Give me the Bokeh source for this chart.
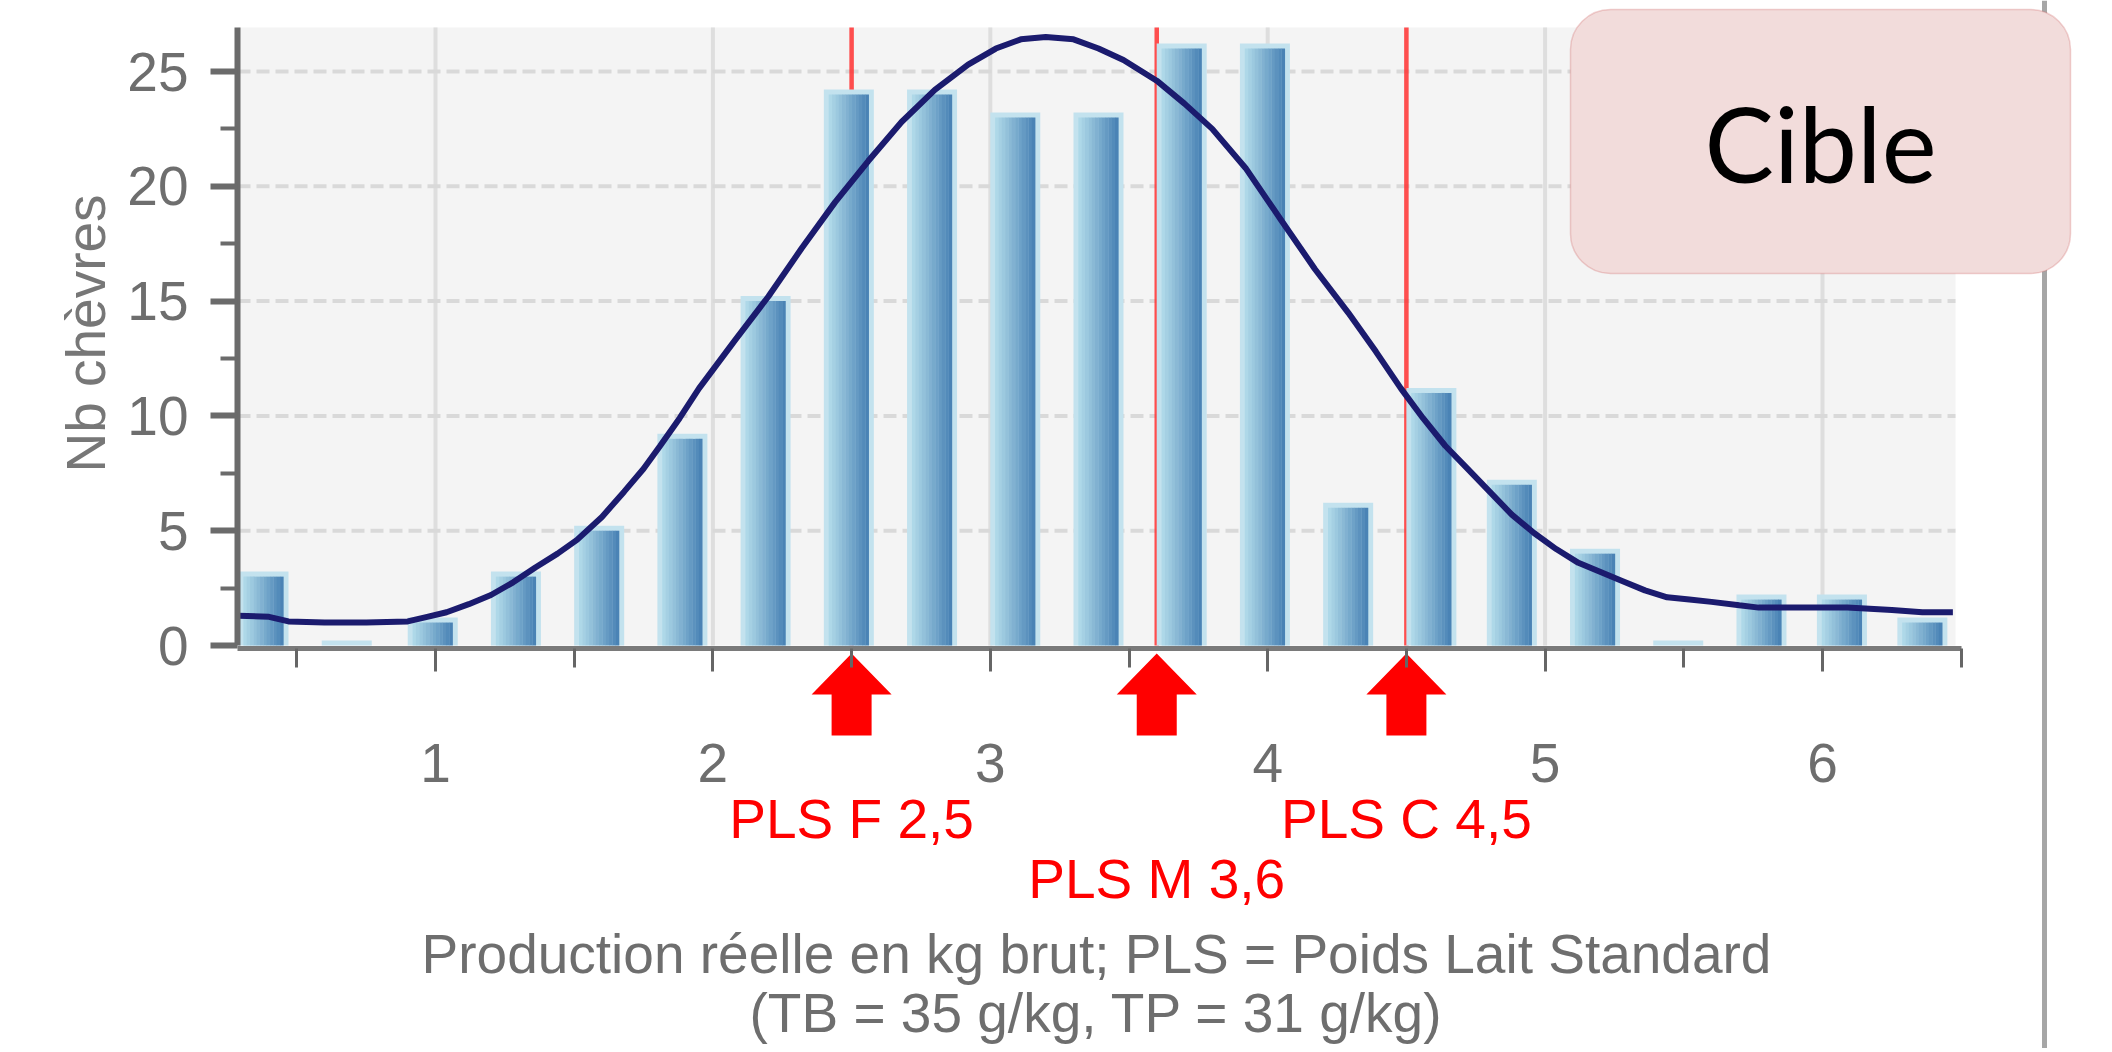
import math
from bokeh.plotting import figure
from bokeh.models import (Range1d, LinearAxis, FixedTicker, BoxAnnotation, Label,
                          Span, ColumnDataSource)
from bokeh.transform import dodge
from bokeh.core.properties import value
from bokeh.embed import file_html
from bokeh.resources import INLINE

# ---------------- data ----------------
bin_centers = [0.38, 0.68, 0.99, 1.29, 1.59, 1.89, 2.19, 2.49, 2.79, 3.09, 3.39,
               3.69, 3.99, 4.29, 4.59, 4.88, 5.18, 5.48, 5.78, 6.07, 6.36]
goat_counts = [3, 0, 1, 3, 5, 9, 15, 24, 24, 23, 23, 26, 26, 6, 11, 7, 4, 0, 2, 2, 1]

curve_x = [0.29, 0.40, 0.47, 0.60, 0.75, 0.90, 0.97, 1.04, 1.12, 1.20, 1.28, 1.36,
           1.44, 1.51, 1.60, 1.68, 1.75, 1.81, 1.88, 1.95, 2.08, 2.20, 2.32, 2.44,
           2.56, 2.68, 2.80, 2.92, 3.02, 3.11, 3.20, 3.30, 3.39, 3.48, 3.60, 3.70,
           3.80, 3.92, 4.05, 4.17, 4.29, 4.39, 4.48, 4.56, 4.64, 4.72, 4.80, 4.88,
           4.96, 5.04, 5.12, 5.20, 5.28, 5.36, 5.44, 5.52, 5.60, 5.70, 5.77, 5.90,
           6.09, 6.25, 6.36, 6.47]
curve_y = [1.30, 1.25, 1.05, 1.00, 1.00, 1.05, 1.25, 1.45, 1.80, 2.20, 2.75, 3.40,
           4.00, 4.60, 5.60, 6.70, 7.70, 8.70, 9.90, 11.20, 13.30, 15.20, 17.30, 19.30,
           21.10, 22.80, 24.20, 25.30, 26.00, 26.40, 26.50, 26.40, 26.00, 25.50, 24.60, 23.60,
           22.50, 20.80, 18.50, 16.40, 14.50, 12.80, 11.20, 9.90, 8.70, 7.70, 6.70, 5.70,
           4.90, 4.20, 3.60, 3.20, 2.80, 2.40, 2.10, 2.00, 1.90, 1.75, 1.65, 1.65,
           1.65, 1.55, 1.45, 1.45]

pls_names = ["PLS F", "PLS M", "PLS C"]
pls_values = [2.5, 3.6, 4.5]
pls_label_rows = [0, 1, 0]

y_ticks = [0, 5, 10, 15, 20, 25]
y_minor_ticks = [2.5, 7.5, 12.5, 17.5, 22.5]
y_grid_values = [5, 10, 15, 20, 25]
x_ticks = [1, 2, 3, 4, 5, 6]
x_minor_ticks = [0.5, 1.5, 2.5, 3.5, 4.5, 5.5, 6.5]
x_grid_values = [1, 2, 3, 4, 5, 6]

y_axis_title = "Nb chèvres"
x_axis_title_lines = ["Production réelle en kg brut; PLS = Poids Lait Standard",
                      "(TB = 35 g/kg, TP = 31 g/kg)"]
badge_text = "Cible"

# ---------------- layout / style ----------------
W, H = 2112, 1048
PX_PER_X = 277.4
PX_PER_Y = 22.96
X1_PX = 435      # px of x = 1
Y0_PX = 645      # px of y = 0


def xd(px):
    return 1 + (px - X1_PX) / PX_PER_X


def yd(py):
    return (Y0_PX - py) / PX_PER_Y


PLOT_LEFT = xd(237)
PLOT_RIGHT = xd(1955)
PLOT_TOP = yd(27)

FONT = "Liberation Sans"
GREY_TXT = "#6e6e6e"
FS = "55px"

p = figure(width=W, height=H, output_backend="svg", toolbar_location=None,
           x_range=Range1d(xd(0), xd(W)), y_range=Range1d(yd(H), yd(0)),
           x_axis_location=None, y_axis_location=None,
           min_border_left=0, min_border_right=0, min_border_top=0, min_border_bottom=0)
p.outline_line_color = None
p.background_fill_color = "white"
p.border_fill_color = "white"
p.grid.visible = False

# plot-area background
p.add_layout(BoxAnnotation(left=PLOT_LEFT, right=PLOT_RIGHT, bottom=0, top=PLOT_TOP,
                           fill_color="#f4f4f4", fill_alpha=1, line_color=None,
                           level="underlay"))

# grid lines
p.segment(x0=x_grid_values, y0=0, x1=x_grid_values, y1=PLOT_TOP,
          line_color="#dedede", line_width=4)
p.segment(x0=PLOT_LEFT, y0=y_grid_values, x1=PLOT_RIGHT, y1=y_grid_values,
          line_color="#d9d9d9", line_width=4, line_dash="13 6")

# PLS vertical lines (behind bars)
p.segment(x0=pls_values, y0=0, x1=pls_values, y1=PLOT_TOP,
          line_color="#ff3030", line_width=4.5, line_alpha=0.85)

# bars
src = ColumnDataSource(dict(x=bin_centers, n=goat_counts,
                            glow=[c + 5 / PX_PER_Y for c in goat_counts]))
p.vbar(x="x", top="glow", bottom=0, width=50 / PX_PER_X, source=src,
       fill_color="#c3e2ee", line_color=None)
inner_w = 40 / PX_PER_X
N = 12
c0 = (174, 216, 232)
c1 = (74, 131, 181)
for k in range(N):
    t = k / (N - 1)
    col = "#%02x%02x%02x" % tuple(int(round(a + (b - a) * t)) for a, b in zip(c0, c1))
    off = -inner_w / 2 + inner_w * (k + 0.5) / N
    p.vbar(x=dodge("x", off), top="n", bottom=0, width=inner_w / N * 1.08,
           source=src, fill_color=col, line_color=None)

# fitted curve
p.line(curve_x, curve_y, line_color="#1b1b6e", line_width=6)

# x axis at y = 0
xax = LinearAxis(fixed_location=yd(648))
xax.ticker = FixedTicker(ticks=x_ticks, minor_ticks=x_minor_ticks)
xax.bounds = (PLOT_LEFT, 6.5)
xax.axis_line_color = "#7a7a7a"
xax.axis_line_width = 5
xax.major_tick_in = 0
xax.major_tick_out = 23
xax.minor_tick_in = 0
xax.minor_tick_out = 19
xax.major_tick_line_color = "#666666"
xax.minor_tick_line_color = "#666666"
xax.major_tick_line_width = 3
xax.minor_tick_line_width = 3
xax.major_label_text_font = FONT
xax.major_label_text_font_size = FS
xax.major_label_text_color = GREY_TXT
xax.major_label_standoff = 72
p.add_layout(xax, "below")

# y axis at the plot-area left edge
yax = LinearAxis(fixed_location=PLOT_LEFT)
yax.ticker = FixedTicker(ticks=y_ticks, minor_ticks=y_minor_ticks)
yax.bounds = (0, PLOT_TOP)
yax.axis_line_color = "#6b6b6b"
yax.axis_line_width = 6
yax.major_tick_in = 0
yax.major_tick_out = 27
yax.minor_tick_in = 0
yax.minor_tick_out = 17
yax.major_tick_line_color = "#6b6b6b"
yax.minor_tick_line_color = "#6b6b6b"
yax.major_tick_line_width = 6
yax.minor_tick_line_width = 4
yax.major_label_text_font = FONT
yax.major_label_text_font_size = FS
yax.major_label_text_color = GREY_TXT
yax.major_label_standoff = 22
p.add_layout(yax, "left")

# y axis title
p.text(x=[xd(85)], y=[yd(333)], text=[y_axis_title], angle=math.pi / 2,
       text_font=value(FONT), text_font_size=FS, text_color="#777777",
       text_align="center", text_baseline="middle")

# PLS arrows
HEAD_HW = 40 / PX_PER_X
BODY_HW = 20 / PX_PER_X
y_tip, y_head, y_bot = yd(653), yd(694), yd(735)
arrow_xs = [[v, v + HEAD_HW, v + BODY_HW, v + BODY_HW, v - BODY_HW, v - BODY_HW, v - HEAD_HW]
            for v in pls_values]
arrow_ys = [[y_tip, y_head, y_head, y_bot, y_bot, y_head, y_head] for _ in pls_values]
p.patches(arrow_xs, arrow_ys, fill_color="#ff0000", line_color=None)

# PLS labels
row_center = [yd(818), yd(878)]
pls_text = ["%s %s" % (n, ("%g" % v).replace(".", ",")) for n, v in zip(pls_names, pls_values)]
p.text(x=pls_values, y=[row_center[r] for r in pls_label_rows], text=pls_text,
       text_font=value(FONT), text_font_size=FS, text_color="#ff0000",
       text_align="center", text_baseline="middle")

# x axis title (two lines)
xc = (PLOT_LEFT + PLOT_RIGHT) / 2
p.text(x=[xc, xc], y=[yd(953), yd(1012)], text=x_axis_title_lines,
       text_font=value(FONT), text_font_size=FS, text_color=GREY_TXT,
       text_align="center", text_baseline="middle")

# right grey separator and "Cible" badge
p.add_layout(Span(location=xd(2044), dimension="height", line_color="#a6a6a6", line_width=5))
p.add_layout(BoxAnnotation(left=xd(1570), right=xd(2070), top=yd(9), bottom=yd(273),
                           fill_color="#f2dcdb", fill_alpha=1, line_color="#cf6b69",
                           line_width=1.5, border_radius=40))
p.add_layout(Label(x=xd(1820), y=yd(142), text=badge_text, text_font="Lato",
                   text_font_size="104px", text_color="#000000",
                   text_align="center", text_baseline="middle"))

open("out.html", "w").write(file_html(p, INLINE))
